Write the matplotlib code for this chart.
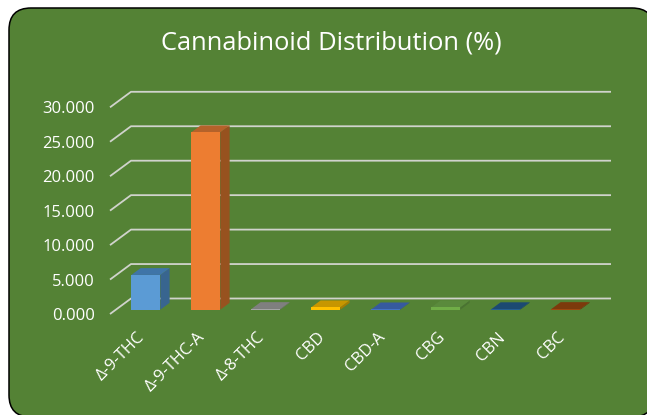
import matplotlib
matplotlib.use('Agg')
import matplotlib.pyplot as plt
from matplotlib.patches import FancyBboxPatch, Polygon
from matplotlib.transforms import IdentityTransform, ScaledTranslation

categories = ['Δ-9-THC', 'Δ-9-THC-A', 'Δ-8-THC', 'CBD', 'CBD-A', 'CBG', 'CBN', 'CBC']
values = [5.04, 25.75, 0.1, 0.35, 0.05, 0.35, 0.08, 0.1]
front_colors = ['#5B9BD5', '#ED7D31', '#A5A5A5', '#FFC000', '#4472C4', '#70AD47', '#255E91', '#9E480E']
top_colors = ['#3F75A8', '#B5622A', '#7F7F7F', '#C79600', '#365A9E', '#5A8A3C', '#1C4A72', '#7C3A0C']
side_colors = ['#38658F', '#97521F', '#6E6E6E', '#A67C00', '#2E4D85', '#4A7332', '#183F60', '#6A300A']
yticks = [0, 5, 10, 15, 20, 25, 30]

W, H = 647, 415
dpi = 100
bg = '#548235'
grid_color = '#D0D3CC'
family = ['Open Sans', 'DejaVu Sans']

fig = plt.figure(figsize=(W / dpi, H / dpi), dpi=dpi, facecolor='white')

# rounded card behind the chart, runs off the right and bottom edges
card = FancyBboxPatch((9, -2), 645, 409, boxstyle='round,pad=0,rounding_size=22',
                      facecolor=bg, edgecolor='black', linewidth=1.1, zorder=-1)
fig.add_artist(card)
card.set_transform(IdentityTransform())

# front plane of the fake 3d box, pixel numbers measured from the top
left, right, y0, y30 = 110, 590, 314, 107.3
ax = fig.add_axes([left / W, 1 - y0 / H, (right - left) / W, (y0 - y30) / H])
ax.patch.set_alpha(0)
ax.set_xlim(-0.5, 7.5)
ax.set_ylim(0, 30)

# depth of the floor, in data units
dx = 21 / 60
dy = 15.5 / 6.89
bar_w = 0.483
bar_front = 0.28
bar_back = 0.72


def proj(x, y, d):
    return x + d * dx, y + d * dy


for t in yticks:
    xs = [-0.5, -0.5 + dx, 7.5 + dx]
    ys = [t, t + dy, t + dy]
    ax.plot(xs, ys, color=grid_color, lw=1.3, clip_on=False, zorder=1, solid_capstyle='butt')

for i, v in enumerate(values):
    l, r = i - bar_w / 2, i + bar_w / 2
    fl = proj(l, 0, bar_front)
    ax.bar(fl[0] + bar_w / 2, v, width=bar_w, bottom=fl[1], color=front_colors[i], zorder=3, clip_on=False)
    top = [proj(l, v, bar_front), proj(r, v, bar_front), proj(r, v, bar_back), proj(l, v, bar_back)]
    side = [proj(r, 0, bar_front), proj(r, 0, bar_back), proj(r, v, bar_back), proj(r, v, bar_front)]
    ax.add_patch(Polygon(side, closed=True, facecolor=side_colors[i], edgecolor='none', zorder=2, clip_on=False))
    ax.add_patch(Polygon(top, closed=True, facecolor=top_colors[i], edgecolor='none', zorder=2, clip_on=False))

for s in ax.spines.values():
    s.set_visible(False)
ax.set_yticks(yticks)
ax.set_yticklabels(['%.3f' % t for t in yticks], color='white', fontsize=12, family=family)
ax.tick_params(axis='y', length=0, pad=11)
ax.set_xticks(range(len(categories)))
ax.set_xticklabels(categories, rotation=45, ha='right', rotation_mode='anchor',
                   color='white', fontsize=12, family=family)
ax.tick_params(axis='x', length=0, pad=11)
# nudge the slanted labels left, they sit a bit too far right otherwise
for lab in ax.get_xticklabels():
    lab.set_transform(lab.get_transform() + ScaledTranslation(-3 / dpi, 0, fig.dpi_scale_trans))

fig.text(331 / W, 1 - 43 / H, 'Cannabinoid Distribution (%)', color='white', fontsize=18.4,
         ha='center', va='center', family=family)

fig.savefig('out.png', dpi=dpi, facecolor='white')
